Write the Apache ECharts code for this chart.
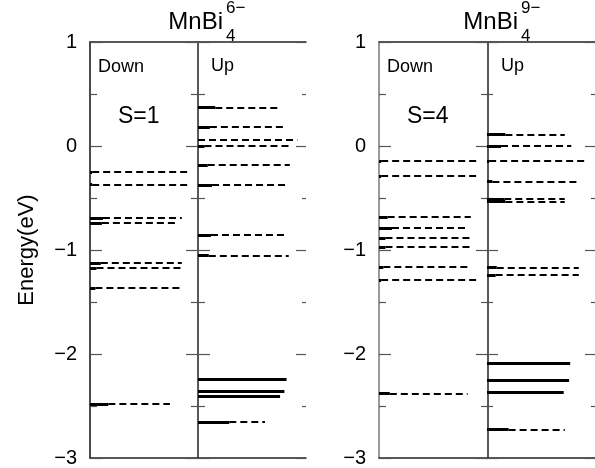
<!DOCTYPE html>
<html><head><meta charset="utf-8">
<script src="https://cdn.jsdelivr.net/npm/echarts@6/dist/echarts.min.js"></script>
<style>html,body{margin:0;padding:0;background:#fff}#c{width:595px;height:468px}</style>
</head><body><div id="c"></div>
<script>
// ---- data ----
const yTicks = [-3, -2, -1, 0, 1];
const yAxisName = 'Energy(eV)';
const sideLabels = ['Down', 'Up'];
const panelTitle = ['MnBi', 'MnBi'];
const titleSub = ['4', '4'];
const titleSup = ['6−', '9−'];
const spinLabels = ['S=1', 'S=4'];

// Panel 1: MnBi4 6-  (energy, occupied part, total length as fraction of column)
const p1DownE     = [-0.25, -0.37, -0.69, -0.74, -1.125, -1.175, -1.365, -2.48];
const p1DownSolid = [0.02, 0.02, 0.12, 0.11, 0.10, 0.06, 0.05, 0.17];
const p1DownEnd   = [0.93, 0.92, 0.85, 0.82, 0.85, 0.85, 0.85, 0.74];

const p1UpE     = [0.37, 0.185, 0.06, 0.0, -0.185, -0.375, -0.855, -1.055, -2.24, -2.355, -2.41, -2.655];
const p1UpSolid = [0.16, 0.11, 0.0, 0.06, 0.09, 0.13, 0.12, 0.10, 0.82, 0.80, 0.76, 0.29];
const p1UpEnd   = [0.74, 0.82, 0.92, 0.85, 0.85, 0.82, 0.82, 0.84, 0.82, 0.80, 0.76, 0.62];

// Panel 2: MnBi4 9-
const p2DownE     = [-0.145, -0.29, -0.685, -0.79, -0.885, -0.97, -1.165, -1.29, -2.38];
const p2DownSolid = [0.02, 0.02, 0.08, 0.12, 0.06, 0.06, 0.04, 0.02, 0.10];
const p2DownEnd   = [0.92, 0.91, 0.85, 0.82, 0.85, 0.85, 0.85, 0.91, 0.82];

const p2UpE     = [0.11, 0.0, -0.145, -0.34, -0.51, -0.535, -1.17, -1.24, -2.085, -2.25, -2.365, -2.725];
const p2UpSolid = [0.17, 0.13, 0.02, 0.05, 0.16, 0.17, 0.09, 0.08, 0.77, 0.76, 0.71, 0.20];
const p2UpEnd   = [0.72, 0.78, 0.90, 0.84, 0.72, 0.72, 0.85, 0.85, 0.77, 0.76, 0.71, 0.72];

// ---- layout ----
const FONT = '"Liberation Sans", Arial, Helvetica, sans-serif';
const grids = [
  {left: 90, right: 595 - 306, top: 42, bottom: 468 - 461},
  {left: 379, right: 595 - 597, top: 42, bottom: 468 - 461}
];
const halfW = [108, 109];
const leftSpineColor = ['#111', '#777'];
const spineColor = '#222';
const tickColor = '#555';

function fmt(v) { return yTicks.indexOf(v) >= 0 ? String(v).replace('-', '−') : ''; }

const xAxes = [], yAxes = [];
grids.forEach((g, gi) => {
  ['bottom', 'top'].forEach(pos => xAxes.push({
    gridIndex: gi, type: 'value', min: 0, max: 2, position: pos,
    axisLine: {show: true, onZero: false, lineStyle: {color: spineColor, width: 1.5}},
    axisTick: {show: false}, axisLabel: {show: false}, splitLine: {show: false}
  }));
  const base = {
    gridIndex: gi, type: 'value', min: yTicks[0], max: yTicks[yTicks.length - 1], interval: 1,
    splitLine: {show: false},
    minorTick: {show: true, splitNumber: 2, length: 7, lineStyle: {color: tickColor, width: 1.2}},
    axisTick: {show: true, length: 12, lineStyle: {color: tickColor, width: 1.2}}
  };
  // left spine with labels
  yAxes.push(Object.assign({}, base, {
    position: 'left',
    axisLine: {show: true, onZero: false, lineStyle: {color: leftSpineColor[gi], width: 1.5}},
    axisTick: Object.assign({}, base.axisTick, {inside: true}),
    axisLabel: {show: true, formatter: fmt, margin: 13, fontSize: 20, color: '#000', fontFamily: FONT},
    name: gi === 0 ? yAxisName : '', nameLocation: 'middle', nameGap: 52, nameRotate: 90,
    nameTextStyle: {fontSize: 22, color: '#000', fontFamily: FONT}
  }));
  // middle divider: ticks to the left
  yAxes.push(Object.assign({}, base, {
    position: 'left', offset: -halfW[gi],
    axisLine: {show: true, onZero: false, lineStyle: {color: spineColor, width: 1.5}},
    axisTick: Object.assign({}, base.axisTick, {inside: false}),
    axisLabel: {show: false}
  }));
  // middle divider: ticks to the right
  yAxes.push(Object.assign({}, base, {
    position: 'right', offset: -halfW[gi],
    axisLine: {show: false, onZero: false},
    axisTick: Object.assign({}, base.axisTick, {inside: false}),
    axisLabel: {show: false}
  }));
  // right edge: ticks only
  yAxes.push(Object.assign({}, base, {
    position: 'right',
    axisLine: {show: false, onZero: false},
    axisTick: Object.assign({}, base.axisTick, {inside: true, length: 10}),
    minorTick: Object.assign({}, base.minorTick, {length: 4}),
    axisLabel: {show: false}
  }));
});

function levelSeries(gi, off, E, solid, end) {
  const solidData = [], dashData = [];
  E.forEach((e, i) => {
    if (solid[i] > 0) solidData.push({coords: [[off, e], [off + solid[i], e]]});
    if (end[i] > solid[i] + 0.005) dashData.push({coords: [[off + solid[i], e], [off + end[i], e]]});
  });
  const common = {type: 'lines', coordinateSystem: 'cartesian2d', xAxisIndex: gi * 2, yAxisIndex: gi * 4,
                  silent: true, animation: false, effect: {show: false}};
  return [
    Object.assign({}, common, {data: dashData, lineStyle: {color: '#000', width: 2, type: [7, 4], opacity: 1}}),
    Object.assign({}, common, {data: solidData, lineStyle: {color: '#000', width: 3, type: 'solid', opacity: 1}})
  ];
}

const series = [].concat(
  levelSeries(0, 0, p1DownE, p1DownSolid, p1DownEnd),
  levelSeries(0, 1, p1UpE, p1UpSolid, p1UpEnd),
  levelSeries(1, 0, p2DownE, p2DownSolid, p2DownEnd),
  levelSeries(1, 1, p2UpE, p2UpSolid, p2UpEnd)
);

function txt(x, y, text, size, align, valign) {
  return {type: 'text', x: x, y: y, silent: true,
          style: {text: text, fontSize: size, fontFamily: FONT, fill: '#000',
                  align: align || 'left', verticalAlign: valign || 'middle'}};
}
const titleRight = [223, 518];
const graphics = [];
grids.forEach((g, gi) => {
  const L = g.left, M = g.left + halfW[gi];
  graphics.push(txt(L + 8, 67, sideLabels[0], 18));
  graphics.push(txt(M + 13, 66, sideLabels[1], 18));
  graphics.push(txt(L + 28, 117, spinLabels[gi], 23));
  graphics.push(txt(titleRight[gi], 22, panelTitle[gi], 24, 'right'));
  graphics.push(txt(titleRight[gi] + 3, 36, titleSub[gi], 17));
  graphics.push(txt(titleRight[gi] + 3, 8, titleSup[gi], 17));
});

const chart = echarts.init(document.getElementById('c'), null, {renderer: 'canvas'});
chart.setOption({
  animation: false,
  grid: grids,
  xAxis: xAxes,
  yAxis: yAxes,
  series: series,
  graphic: graphics
});
</script></body></html>
